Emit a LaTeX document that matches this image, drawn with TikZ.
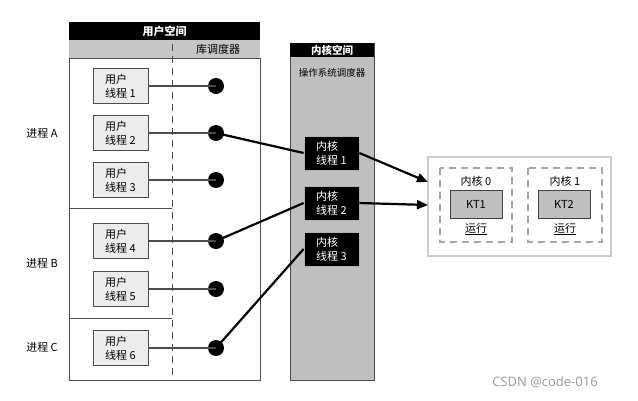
\documentclass[tikz,border=0pt]{standalone}
\usepackage{fontspec}
\newfontfamily\cjk{Noto Sans CJK SC}
\setsansfont{Open Sans}
\usetikzlibrary{arrows.meta}
\begin{document}
\begin{tikzpicture}[x=1pt,y=-1pt,
  ubox/.style={draw=gray!60!black, fill=gray!15, line width=0.8pt, minimum width=55pt, minimum height=35pt, align=left, inner sep=2pt, font=\cjk\fontsize{11}{14}\selectfont},
  kbox/.style={draw=gray!60, fill=black, text=white, line width=0.8pt, minimum width=55pt, minimum height=34pt, align=left, inner sep=2pt, font=\cjk\fontsize{11}{14}\selectfont},
  dotc/.style={circle, fill=black, minimum size=16pt, inner sep=0pt},
  tie/.style={draw=gray!60!black, line width=1.6pt},
  conn/.style={draw=black, line width=2.2pt},
  arr/.style={conn, -{Triangle[length=11pt,width=9pt]}},
  lbl/.style={font=\cjk\fontsize{11}{13}\selectfont},
  coredash/.style={draw=gray!70, line width=1.2pt, dash pattern=on 7pt off 5pt},
  ktbox/.style={draw=black!75, fill=gray!50, line width=0.8pt, minimum width=52pt, minimum height=28pt, font=\cjk\fontsize{11}{13}\selectfont}
]
\useasboundingbox (0,0) rectangle (638,400);
\fill[white] (0,0) rectangle (638,400);

% user space
\fill[black] (69,22) rectangle (260,40);
\node[lbl, text=white, font=\cjk\bfseries\fontsize{11}{13}\selectfont] (uhead) at (164.5,31) {用户空间};
\fill[gray!45] (69,40) rectangle (260,58);
\draw[gray!60!black, line width=0.8pt] (69,58) rectangle (260,380);
\node[lbl] (lsched) at (218,49) {库调度器};
\draw[gray!60!black, line width=1pt, dash pattern=on 7pt off 5pt] (172,44) -- (172,380);
\draw[gray!60!black, line width=0.8pt] (69,208) -- (172,208);
\draw[gray!60!black, line width=0.8pt] (69,318) -- (172,318);

% kernel space column
\fill[gray!50] (290,43) rectangle (374,380);
\draw[gray!60!black, line width=0.8pt] (290,43) rectangle (374,380);
\fill[black] (290,43) rectangle (374,57);
\node[lbl, text=white, font=\cjk\bfseries\fontsize{10.5}{12}\selectfont] (khead) at (332,50) {内核空间};
\node[lbl, font=\cjk\fontsize{9.5}{11}\selectfont] (ksched) at (332,73) {操作系统调度器};

% process labels
\node[lbl] (pA) at (42,133) {进程 A};
\node[lbl] (pB) at (42,263) {进程 B};
\node[lbl] (pC) at (42,347) {进程 C};

% user threads
\node[ubox] (u1) at (120.5,86) {用户\\线程 1};
\node[ubox] (u2) at (120.5,133) {用户\\线程 2};
\node[ubox] (u3) at (120.5,180) {用户\\线程 3};
\node[ubox] (u4) at (120.5,241) {用户\\线程 4};
\node[ubox] (u5) at (120.5,289) {用户\\线程 5};
\node[ubox] (u6) at (120.5,348) {用户\\线程 6};

\node[dotc] (d1) at (216,86) {};
\node[dotc] (d2) at (216,133) {};
\node[dotc] (d3) at (216,180) {};
\node[dotc] (d4) at (216,241) {};
\node[dotc] (d5) at (216,289) {};
\node[dotc] (d6) at (216,348) {};

\foreach \i in {1,...,6} \draw[tie] (u\i.east) -- (d\i.center);

% kernel threads
\node[kbox] (k1) at (331.5,153) {内核\\线程 1};
\node[kbox] (k2) at (331.5,203) {内核\\线程 2};
\node[kbox] (k3) at (331.5,249) {内核\\线程 3};

% CPU box
\draw[gray!40, line width=1.2pt, fill=white] (428,157) rectangle (611,256);
\coordinate (cpuA) at (428,182);
\coordinate (cpuB) at (428,205);
\draw[coredash] (440,168) rectangle (512,242);
\draw[coredash] (528,168) rectangle (602,242);
\node[lbl] (c0) at (476,181) {内核 0};
\node[lbl] (c1) at (565,181) {内核 1};
\node[ktbox] (kt1) at (476,204) {KT1};
\node[ktbox] (kt2) at (564,204) {KT2};
\node[lbl] (r0) at (476,229) {\underline{运行}};
\node[lbl] (r1) at (565,229) {\underline{运行}};

% connectors
\draw[conn] (d2.center) -- (k1.west);
\draw[conn] (d4.center) -- (k2.west);
\draw[conn] (d6.center) -- (k3.west);
\draw[arr] (k1.east) -- (cpuA);
\draw[arr] (k2.east) -- (cpuB);

\node[font=\sffamily\fontsize{13}{15}\selectfont, text=gray!80] (csdn) at (545,382) {CSDN @code-016};
\end{tikzpicture}
\end{document}
